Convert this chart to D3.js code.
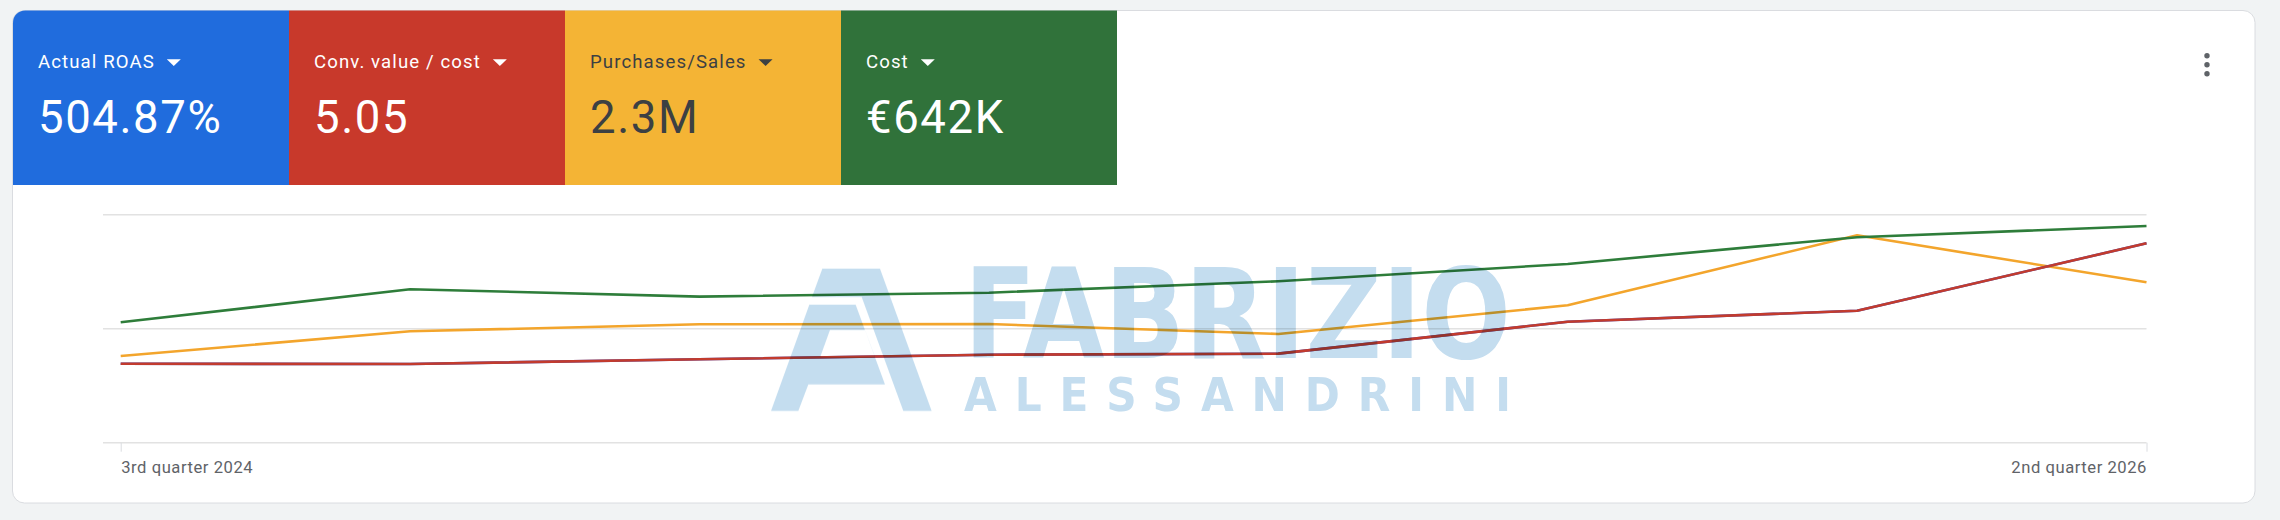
<!DOCTYPE html>
<html><head><meta charset="utf-8">
<script src="https://cdn.jsdelivr.net/npm/d3@7"></script>
<style>
html,body{margin:0;padding:0;background:#f1f3f4;}
svg{display:block;}
</style></head><body>
<svg id="chart" width="2280" height="520"></svg>
<script>
// ---------- data ----------
const metricNames = ["Actual ROAS", "Conv. value / cost", "Purchases/Sales", "Cost"];
const metricTotals = ["504.87%", "5.05", "2.3M", "€642K"];
const quarters = ["Q3 2024", "Q4 2024", "Q1 2025", "Q2 2025", "Q3 2025", "Q4 2025", "Q1 2026", "Q2 2026"];
const tickLabels = ["3rd quarter 2024", "2nd quarter 2026"];
// values on a shared, unlabeled index scale (gridlines at 0, 1, 2)
const roasValues          = [0.693, 0.690, 0.732, 0.772, 0.781, 1.061, 1.158, 1.749];
const convValueCostValues = [0.693, 0.690, 0.732, 0.772, 0.781, 1.061, 1.158, 1.749];
const purchasesValues     = [0.761, 0.977, 1.039, 1.041, 0.954, 1.205, 1.819, 1.407];
const costValues          = [1.056, 1.346, 1.281, 1.316, 1.416, 1.568, 1.802, 1.901];
const gridValues = [0, 1, 2];
const watermarkWords = ["FABRIZIO", "ALESSANDRINI"];

// ---------- styles ----------
const tileColors = ["#206cdd", "#c8392b", "#f4b435", "#30723a"];
const tileTextColors = ["#ffffff", "#ffffff", "#3c4043", "#ffffff"];

const svg = d3.select("#chart");

// card
const card = {x: 12.5, y: 10.5, w: 2242.5, h: 492.5, r: 12};
svg.append("rect")
  .attr("x", card.x).attr("y", card.y).attr("width", card.w).attr("height", card.h)
  .attr("rx", card.r).attr("fill", "#ffffff").attr("stroke", "#dadce0").attr("stroke-width", 1);

svg.append("clipPath").attr("id", "cardClip").append("rect")
  .attr("x", card.x + 0.5).attr("y", card.y).attr("width", card.w - 1).attr("height", card.h)
  .attr("rx", card.r);

// ---------- metric tiles ----------
const tileX = d3.scaleBand().domain(metricNames).range([13, 1117]).padding(0);
const tiles = svg.append("g").attr("clip-path", "url(#cardClip)")
  .selectAll("g.tile").data(metricNames).join("g").attr("class", "tile")
  .attr("transform", d => `translate(${tileX(d)},0)`);

tiles.append("rect")
  .attr("x", 0).attr("y", 10).attr("width", tileX.bandwidth()).attr("height", 175)
  .attr("fill", (d, i) => tileColors[i]);

tiles.each(function(d, i) {
  const g = d3.select(this);
  const lab = g.append("text")
    .attr("x", 25).attr("y", 68.3)
    .attr("font-family", "Roboto, 'Noto Sans', sans-serif")
    .attr("font-size", 18.6).attr("letter-spacing", 1.1)
    .attr("fill", tileTextColors[i]).text(d);
  const w = lab.node().getComputedTextLength();
  const tx = 25 + w + 12;
  g.append("path")
    .attr("d", `M${tx},59.3 L${tx + 14},59.3 L${tx + 7},66 Z`)
    .attr("fill", tileTextColors[i]);
  g.append("text")
    .attr("x", 25).attr("y", 133.3)
    .attr("font-family", "Roboto, 'Noto Sans', sans-serif")
    .attr("font-size", 45.5).attr("letter-spacing", 1.6)
    .attr("fill", tileTextColors[i]).text(metricTotals[i]);
});

// kebab menu
svg.append("g").selectAll("circle").data([0, 1, 2]).join("circle")
  .attr("cx", 2207).attr("cy", d => 55.7 + d * 9).attr("r", 2.7).attr("fill", "#5f6368");

// ---------- chart ----------
const x = d3.scalePoint().domain(quarters).range([120.7, 2146.5]);
const y = d3.scaleLinear().domain([0, 2]).range([442.7, 214.7]);

svg.append("g").selectAll("line").data(gridValues).join("line")
  .attr("x1", 103).attr("x2", 2146.5)
  .attr("y1", d => y(d)).attr("y2", d => y(d))
  .attr("stroke", "#e2e2e2").attr("stroke-width", 1.6);

const axis = svg.append("g").attr("transform", `translate(0,${y(0)})`)
  .call(d3.axisBottom(x).tickValues([quarters[0], quarters[quarters.length - 1]])
    .tickSize(9).tickFormat((d, i) => tickLabels[i]));
axis.select(".domain").remove();
axis.selectAll(".tick line").attr("stroke", "#dadce0").attr("stroke-width", 1);
axis.selectAll(".tick text")
  .attr("y", 30).attr("dy", 0)
  .attr("font-family", "Roboto, 'Noto Sans', sans-serif")
  .attr("font-size", 16.6).attr("letter-spacing", 0.55)
  .attr("fill", "#5f6368")
  .attr("text-anchor", (d, i) => i === 0 ? "start" : "end");

const series = [
  {values: purchasesValues, color: "#f3a52c"},
  {values: costValues, color: "#2e7d3a"},
  {values: roasValues, color: "#3d57c9"},
  {values: convValueCostValues, color: "#c23b2e"}
];
const line = d3.line().x((d, i) => x(quarters[i])).y(d => y(d));
svg.append("g").selectAll("path").data(series).join("path")
  .attr("d", s => line(s.values))
  .attr("fill", "none").attr("stroke", s => s.color)
  .attr("stroke-width", 2.6).attr("stroke-linejoin", "round");

// ---------- watermark ----------
const wm = svg.append("g").style("mix-blend-mode", "multiply").attr("fill", "#c4ddef");
const logo = wm.append("g").attr("transform", "translate(765,262) scale(0.3333)");
logo.append("path")
  .attr("d", "M172,20 L345,20 L500,447 L415,447 L290,105 L141,105 Z");
logo.append("path").attr("fill-rule", "evenodd")
  .attr("d", "M133,128 L272,128 L360,367 L130,367 L100,447 L18,447 Z M195,204 L300,204 L330,284 L166,284 Z");
wm.append("text")
  .attr("x", 964).attr("y", 358)
  .attr("font-family", "'Liberation Sans Narrow', 'DejaVu Sans Condensed', 'Liberation Sans', sans-serif")
  .attr("font-weight", "bold").attr("font-size", 125)
  .attr("textLength", 547).attr("lengthAdjust", "spacingAndGlyphs")
  .text(watermarkWords[0]);
wm.append("text")
  .attr("x", 964).attr("y", 411)
  .attr("font-family", "'Liberation Sans Narrow', 'DejaVu Sans Condensed', 'Liberation Sans', sans-serif")
  .attr("font-weight", "bold").attr("font-size", 47)
  .attr("textLength", 547).attr("lengthAdjust", "spacing")
  .text(watermarkWords[1]);
</script>
</body></html>
